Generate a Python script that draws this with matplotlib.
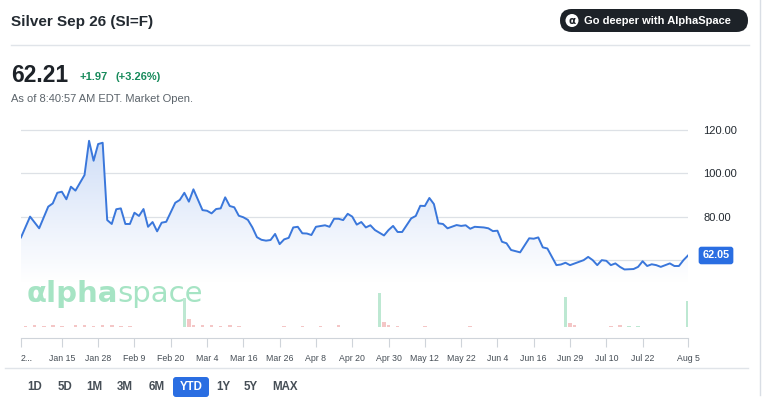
import matplotlib
matplotlib.use('Agg')
import matplotlib.pyplot as plt
import numpy as np
from matplotlib.colors import LinearSegmentedColormap
from matplotlib.patches import FancyBboxPatch, Circle

plt.rcParams['font.family'] = ['Liberation Sans', 'DejaVu Sans']

# price line: trading day index -> price
days = [0, 2, 4, 6, 7, 8, 9, 10, 11, 12, 14, 15, 16, 17, 18, 19, 20, 21, 22, 23,
        24, 25, 26, 27, 28, 29, 30, 31, 32, 34, 35, 36, 37, 38, 40, 41, 42, 43, 44, 45,
        46, 47, 48, 49, 50, 51, 52, 53, 54, 55, 56, 57, 58, 59, 60, 61, 62, 63, 64, 65,
        67, 68, 69, 70, 71, 72, 73, 74, 75, 76, 77, 78, 80, 81, 82, 83, 84, 86, 87, 88,
        89, 90, 91, 92, 93, 94, 96, 97, 98, 99, 100, 102, 103, 104, 105, 106, 107, 108, 110, 112,
        113, 114, 115, 116, 118, 119, 120, 121, 123, 124, 125, 126, 127, 128, 129, 130, 131, 132, 133, 135,
        136, 137, 138, 139, 140, 141, 142, 143, 144, 145, 146, 147]
prices = [70.4, 80.0, 74.6, 84.6, 86.1, 91.0, 91.5, 88.0, 93.8, 92.0, 99.2, 115.0, 105.8, 113.5, 114.1, 78.4, 76.6, 83.4, 83.8, 76.6,
          76.6, 81.8, 80.3, 83.5, 75.3, 77.5, 73.2, 77.2, 77.6, 86.4, 87.7, 91.0, 86.9, 92.6, 83.0, 82.7, 81.5, 83.5, 83.8, 88.9,
          84.9, 84.3, 80.4, 79.7, 78.5, 75.0, 70.5, 69.3, 68.9, 69.2, 72.0, 67.3, 69.5, 70.2, 75.0, 75.3, 72.3, 72.2, 71.5, 75.3,
          76.0, 75.3, 79.0, 79.0, 78.4, 81.3, 80.0, 76.3, 77.5, 75.0, 76.0, 73.8, 71.3, 73.8, 75.7, 72.9, 72.9, 79.2, 80.3, 85.0,
          84.9, 88.6, 85.8, 76.9, 76.6, 74.6, 76.1, 75.7, 76.0, 74.4, 75.3, 75.0, 74.6, 73.3, 73.5, 68.4, 67.7, 64.6, 63.5, 70.0,
          69.8, 70.4, 65.8, 65.3, 57.6, 57.9, 58.7, 57.6, 59.1, 59.9, 61.4, 59.9, 57.6, 59.9, 59.6, 57.6, 58.4, 56.8, 55.6, 55.8,
          56.8, 59.4, 57.2, 58.0, 57.6, 56.8, 57.6, 58.4, 57.2, 57.2, 59.9, 62.05]

tick_days = [0, 9, 17, 25, 33, 41, 49, 57, 65, 73, 81, 89, 97, 105, 113, 121, 129, 137, 147]
tick_labels = ['2...', 'Jan 15', 'Jan 28', 'Feb 9', 'Feb 20', 'Mar 4', 'Mar 16', 'Mar 26', 'Apr 8',
               'Apr 20', 'Apr 30', 'May 12', 'May 22', 'Jun 4', 'Jun 16', 'Jun 29', 'Jul 10', 'Jul 22', 'Aug 5']

price_ticks = [60, 80, 100, 120]
price_labels = ['', '80.00', '100.00', '120.00']
last_price = 62.05

# volume bars
vol_days = [1, 3, 5, 7, 9, 12, 14, 16, 18, 20, 22, 24, 36, 37, 38, 40, 42, 44, 46, 48,
            58, 62, 66, 70, 79, 80, 81, 83, 89, 99, 120, 121, 122, 130, 132, 134, 136, 147]
vol_values = [4, 5, 4, 5, 4, 5, 6, 4, 6, 5, 4, 4, 97, 27, 6, 5, 5, 4, 5, 4,
              4, 4, 4, 5, 113, 17, 5, 4, 3, 3, 100, 13, 5, 4, 5, 4, 4, 87]
vol_up = [False, False, False, False, False, False, False, False, False, False, False, False, True, False, False, False, False, False, False, False,
          False, False, False, False, True, False, False, False, False, False, True, False, False, False, False, True, True, True]

range_labels = ['1D', '5D', '1M', '3M', '6M', 'YTD', '1Y', '5Y', 'MAX']
range_x = [35, 65, 94, 125, 157, 191, 223, 251, 285]

W, H = 762, 407
fig = plt.figure(figsize=(7.62, 4.07), dpi=100, facecolor='white')


def box(x0, y0, x1, y1):
    # pixel box with top-left origin -> figure fraction rect
    return [x0 / W, 1 - y1 / H, (x1 - x0) / W, (y1 - y0) / H]


# price chart
ax = fig.add_axes(box(21, 121.3, 688, 281.6))
ax.plot(days, prices, color='#3a77db', lw=1.4, solid_joinstyle='round', zorder=3)
fill = ax.fill_between(days, prices, 50, color='none', lw=0)
grad = np.linspace(0, 1, 256).reshape(-1, 1)
cmap = LinearSegmentedColormap.from_list('fade', ['#ffffff', '#eef3fc', '#dbe6f9', '#c8d9f5'])
im = ax.imshow(grad, extent=[0, 147, 50, 124], origin='lower', aspect='auto', cmap=cmap, zorder=2)
im.set_clip_path(fill.get_paths()[0], transform=ax.transData)
ax.set_xlim(0, 147)
ax.set_ylim(50, 124)
for s in ax.spines.values():
    s.set_visible(False)
ax.set_xticks([])
ax.set_yticks(price_ticks)
ax.set_yticklabels(price_labels)
ax.yaxis.tick_right()
ax.tick_params(axis='y', length=0, pad=11, labelsize=8, labelcolor='#232a31')
ax.grid(axis='y', color='#dde1e6', lw=0.9, zorder=1)
ax.set_axisbelow(True)
ax.text(1.0 + 28 / 667, last_price, '%.2f' % last_price, transform=ax.get_yaxis_transform(),
        ha='center', va='center', color='white', weight='bold', fontsize=7.8,
        bbox=dict(boxstyle='round,pad=0.35,rounding_size=0.25', fc='#2a6ee2', ec='none'))

# volume + date axis
vax = fig.add_axes(box(21, 288, 688, 338))
colors = ['#bde8d2' if up else '#f4c6c6' for up in vol_up]
vax.bar(vol_days, vol_values, width=0.8, color=colors, lw=0)
vax.set_xlim(0, 147)
vax.set_ylim(-37, 130)
for k in ['top', 'left', 'right']:
    vax.spines[k].set_visible(False)
vax.spines['bottom'].set_color('#cfd4da')
vax.set_yticks([])
vax.set_xticks(tick_days)
vax.set_xticklabels(tick_labels)
vax.tick_params(axis='x', length=6.5, color='#cfd4da', labelsize=6.3, labelcolor='#464e56', pad=5)
vax.get_xticklabels()[0].set_ha('left')
vax.patch.set_alpha(0)

# overlay in pixel coordinates for header, watermark and buttons
ov = fig.add_axes([0, 0, 1, 1])
ov.set_xlim(0, W)
ov.set_ylim(H, 0)
ov.axis('off')
ov.patch.set_alpha(0)

ov.text(27, 302, '\u03b1lpha', fontsize=21, weight='bold', color='#a6e4c4', family='DejaVu Sans', va='baseline')
ov.text(117, 302, 'space', fontsize=21, color='#a6e4c4', family='DejaVu Sans', va='baseline')

ov.text(11, 22, 'Silver Sep 26 (SI=F)', fontsize=11, weight='bold', color='#232a31', va='center')
ov.plot([11, 749], [45, 45], color='#e0e4e9', lw=1)
ov.text(11, 75, '62.21', fontsize=16.5, weight='bold', color='#1d2228', va='center')
ov.text(80, 77, '+1.97', fontsize=8, weight='bold', color='#178a5b', va='center')
ov.text(116, 77, '(+3.26%)', fontsize=8, weight='bold', color='#178a5b', va='center')
ov.text(11, 99, 'As of 8:40:57 AM EDT. Market Open.', fontsize=8, color='#5b636a', va='center')

ov.add_patch(FancyBboxPatch((560, 9), 188, 23, boxstyle='round,pad=0,rounding_size=11.5', fc='#1d2228', ec='none'))
ov.add_patch(Circle((572, 20.5), 6.5, fc='white', ec='none'))
ov.text(572, 21, '\u03b1', fontsize=7.5, weight='bold', color='#1d2228', ha='center', va='center', family='DejaVu Sans')
ov.text(584, 21, 'Go deeper with AlphaSpace', fontsize=8, weight='bold', color='white', va='center')

ov.plot([5, 748], [368, 368], color='#e0e4e9', lw=1)
ov.add_patch(FancyBboxPatch((173, 377), 36, 20, boxstyle='round,pad=0,rounding_size=3', fc='#2a6ee2', ec='none'))
for lab, x in zip(range_labels, range_x):
    c = 'white' if lab == 'YTD' else '#464e56'
    ov.text(x, 387, lab, fontsize=8.3, weight='bold', color=c, ha='center', va='center')

ov.plot([759.5, 759.5], [0, 395], color='#d9dee5', lw=1)

fig.savefig('out.png', dpi=100)
